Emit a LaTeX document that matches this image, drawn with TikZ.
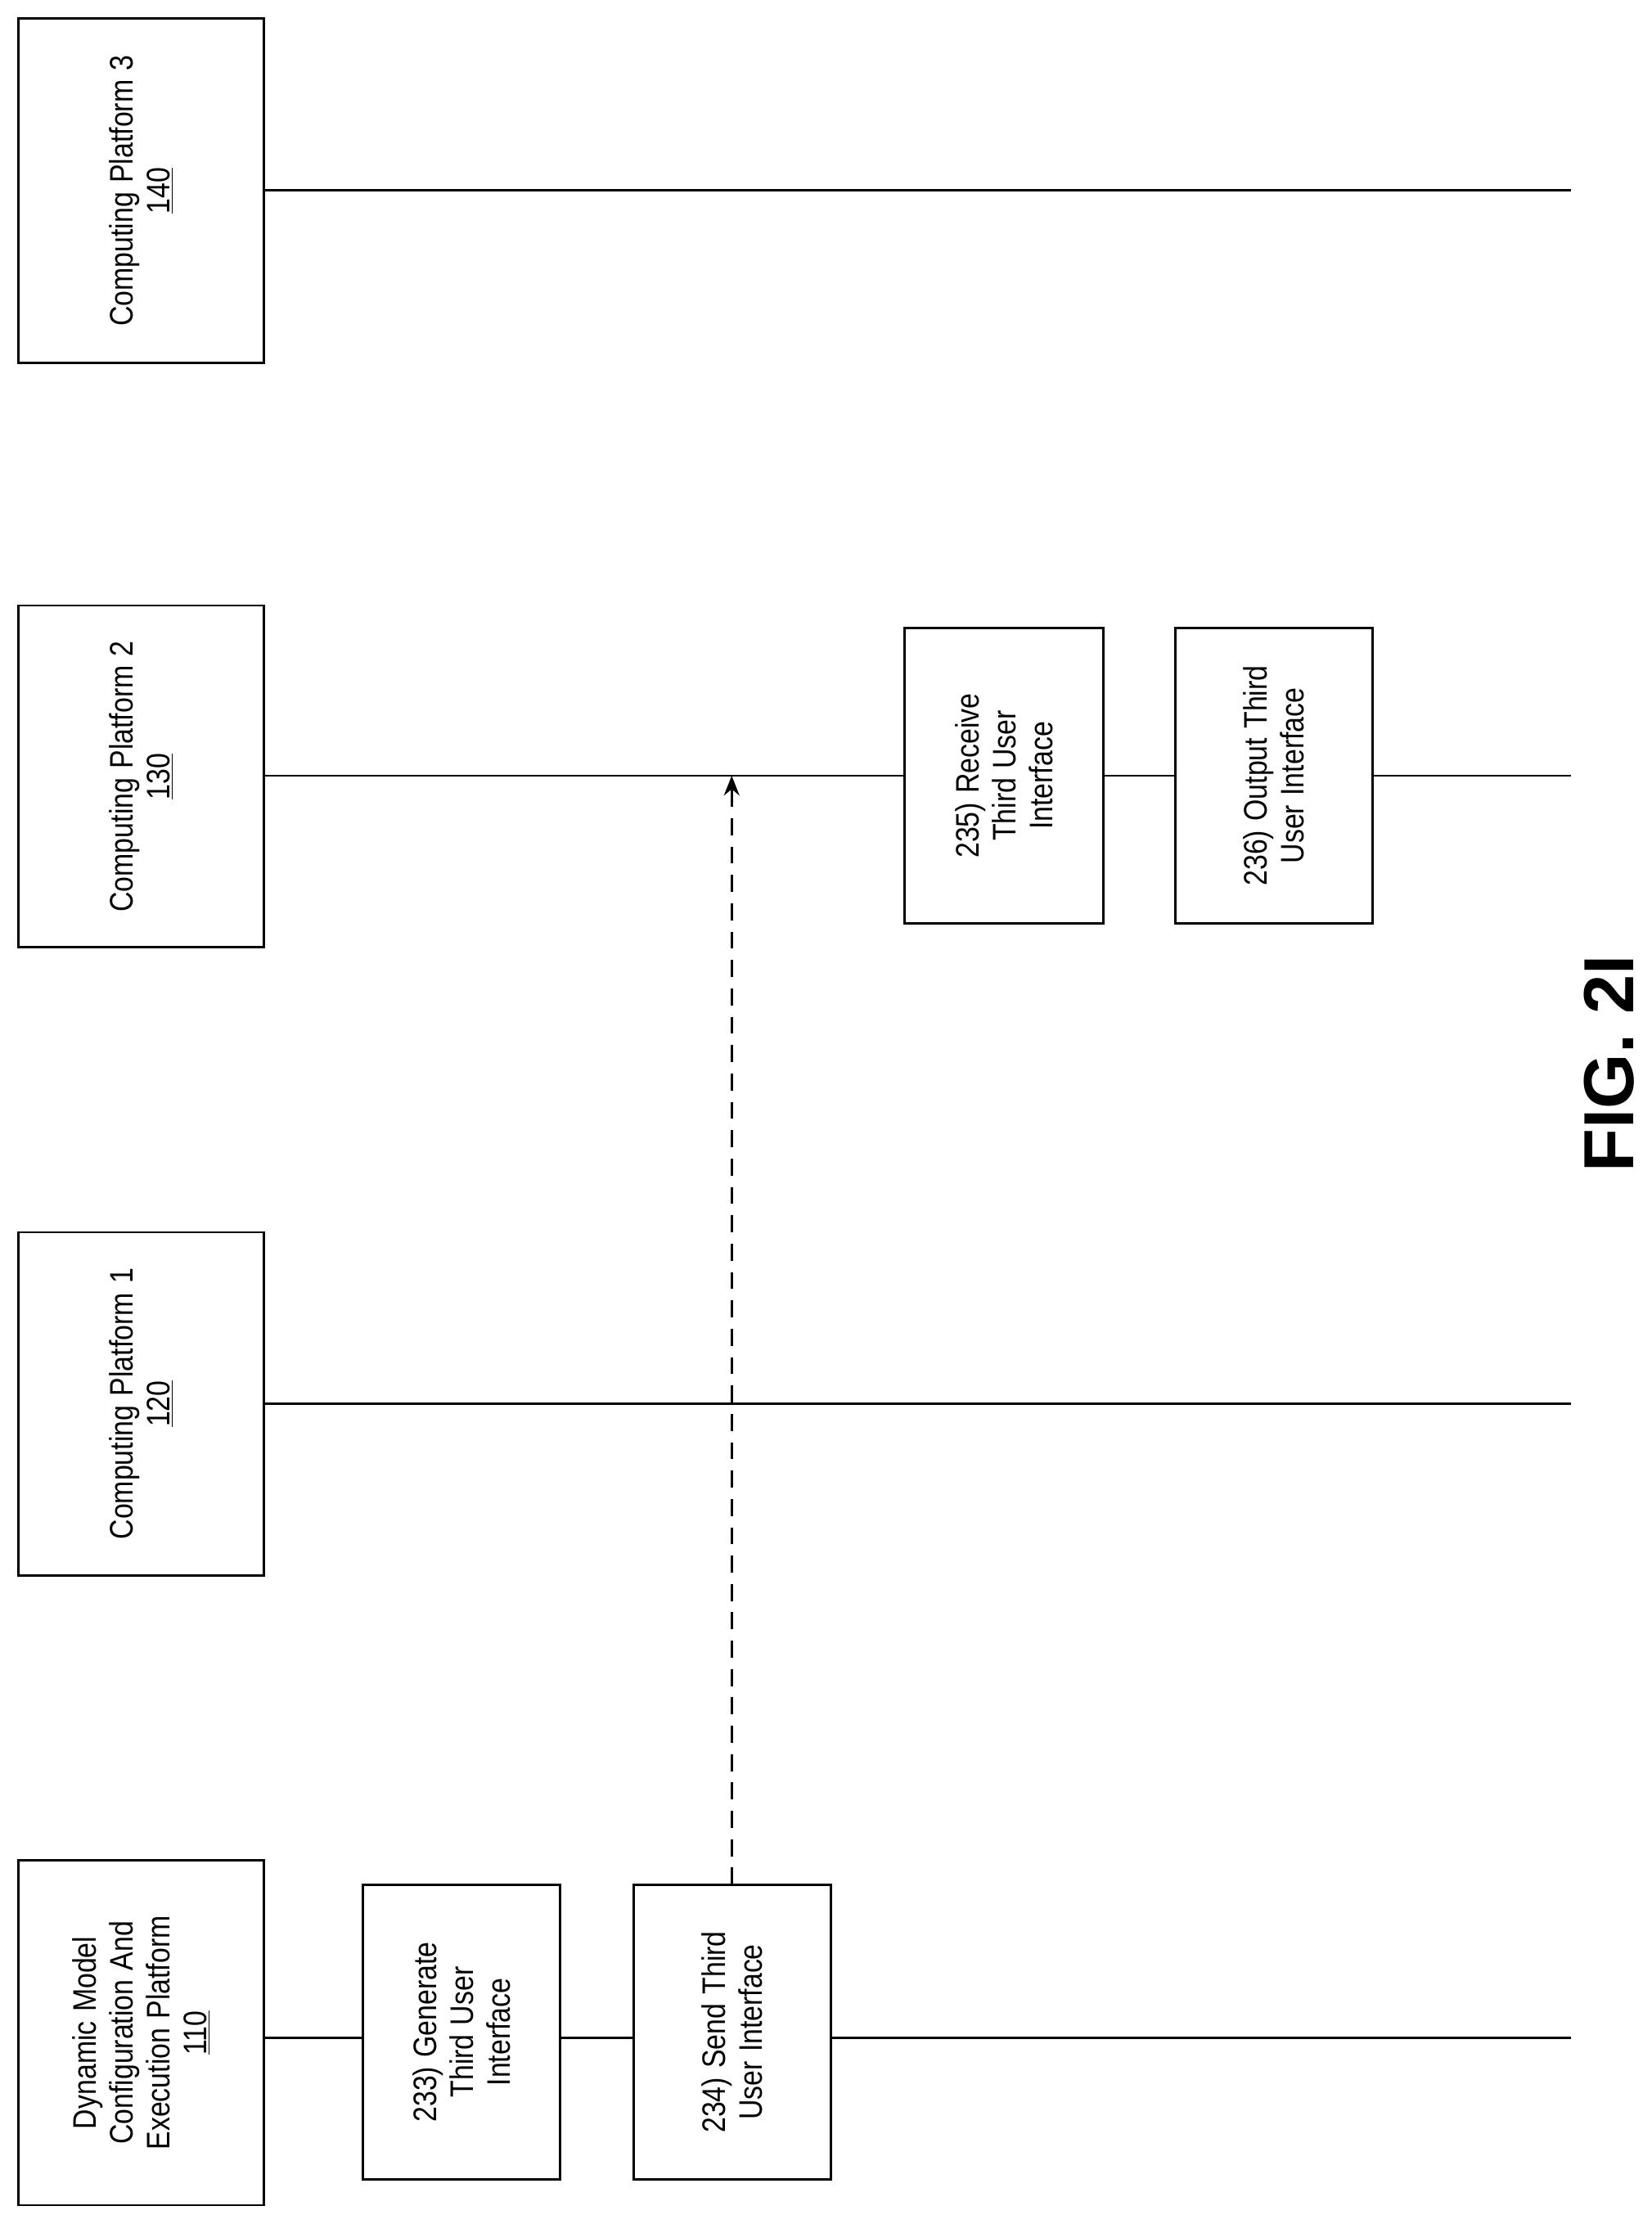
\documentclass[tikz,border=0pt]{standalone}
\usepackage{fontspec}
\setmainfont{Liberation Sans}
\usetikzlibrary{arrows.meta}
\begin{document}
\begin{tikzpicture}[x=1pt,y=-1pt,
 box/.style={draw,line width=1.6pt,inner sep=0pt},
 lbl/.style={rotate=90,align=center,font=\fontsize{23}{26}\selectfont,text width=225pt},
 slbl/.style={rotate=90,align=center,font=\fontsize{23}{26}\selectfont,text width=190pt},
 ln/.style={line width=1.6pt}]
\useasboundingbox (0,0) rectangle (1165,1562);
\newcommand\plat[6]{%
 \draw[box] (13,#1) rectangle (186,#2);
 \node[lbl] (#3) at (99.5,{(#1+#2)/2}) {\scalebox{0.85}[1]{\parbox{240pt}{\centering #4}}};
 \coordinate (#5) at (186,#6);
 \coordinate (#5e) at (1108,#6);
}
\plat{13}{256}{p3}{Computing Platform 3\\\underline{140}}{l3}{134}
\plat{427}{668}{p2}{Computing Platform 2\\\underline{130}}{l2}{547}
\plat{869}{1111}{p1}{Computing Platform 1\\\underline{120}}{l1}{990}
\plat{1312}{1555}{p0}{Dynamic Model\\Configuration And\\Execution Platform\\\underline{110}}{l0}{1437}
\draw[ln] (l3) -- (l3e);
\draw[ln] (l1) -- (l1e);
\draw[ln] (l2) -- (l2e);
\draw[ln] (l0) -- (l0e);
\newcommand\stepbx[5]{%
 \draw[box,fill=white] (#1,#2) rectangle (#3,#4);
 \node[slbl] at ({(#1+#3)/2},{(#2+#4)/2}) {\scalebox{0.85}[1]{\parbox{215pt}{\centering #5}}};
}
\stepbx{256}{1329}{395}{1537}{233) Generate\\Third User\\Interface}
\stepbx{447}{1329}{586}{1537}{234) Send Third\\User Interface}
\stepbx{638}{443}{778}{651}{235) Receive\\Third User\\Interface}
\stepbx{829}{443}{968}{651}{236) Output Third\\User Interface}
\coordinate (a0) at (516,1329);
\coordinate (a1) at (516,547);
\draw[ln,dashed,dash pattern=on 12pt off 8pt,-{Stealth[length=14pt,width=11pt]}] (a0) -- (a1);
\node[rotate=90,font=\bfseries\fontsize{50}{56}\selectfont] (fig) at (1135,750) {FIG. 2I};
\end{tikzpicture}
\end{document}
